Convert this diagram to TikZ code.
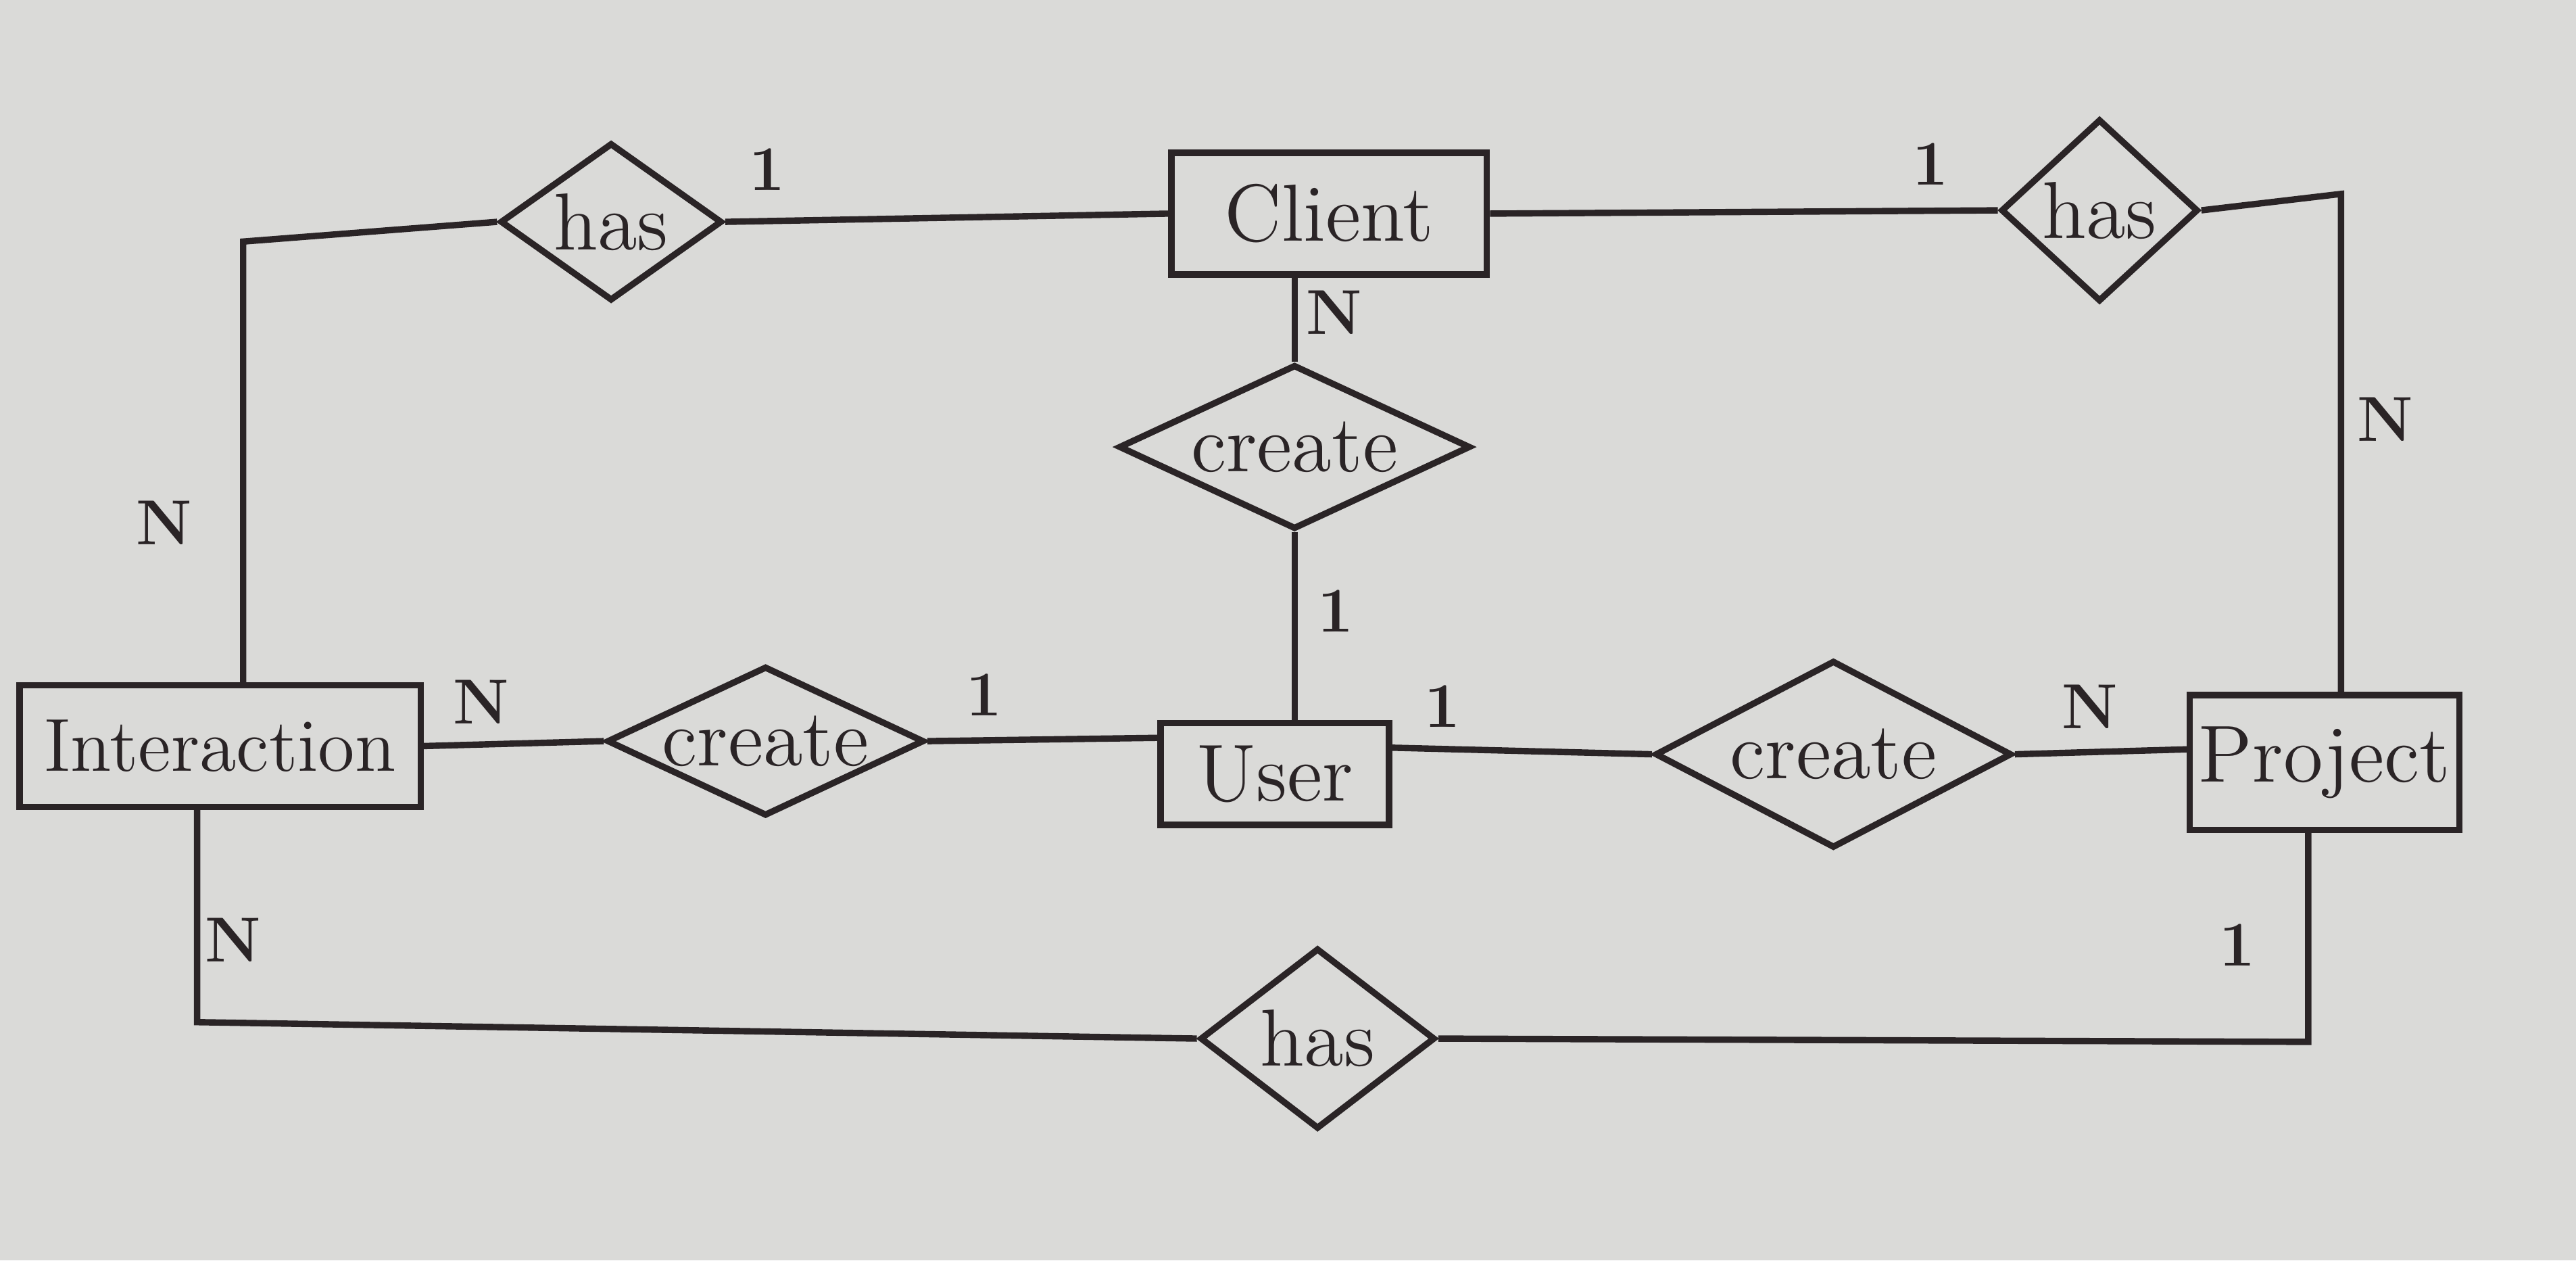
\documentclass[tikz,border=0pt]{standalone}
\usetikzlibrary{shapes.geometric}
\definecolor{paper}{RGB}{218,218,216}
\definecolor{ink}{RGB}{42,36,38}
\begin{document}
\begin{tikzpicture}[x=0.01cm,y=-0.01cm,
  line width=1.1pt, draw=ink, every node/.style={text=ink},
  entity/.style={draw=ink, line width=1.1pt, rectangle, inner sep=0pt, font=\fontsize{14}{16}\selectfont},
  rel/.style={draw=ink, line width=1.1pt, diamond, inner sep=0pt, shape aspect=1},
  reltext/.style={font=\fontsize{14}{16}\selectfont},
  card/.style={font=\fontsize{11}{13}\selectfont\bfseries}]
\fill[paper] (0,0) rectangle (1568,767);
\useasboundingbox (0,0) rectangle (1568,767);
% entities
\node[entity, minimum width=1.92cm, minimum height=0.74cm] (cl) at (809,130) {Client};
\node[entity, minimum width=1.39cm, minimum height=0.62cm] (us) at (776,471) {User};
\node[entity, minimum width=2.44cm, minimum height=0.74cm, font=\fontsize{13}{15}\selectfont] (in) at (134,454) {Interaction};
\node[entity, minimum width=1.64cm, minimum height=0.82cm] (pr) at (1415,464) {Project};
% relationships
\node[rel, minimum width=1.35cm, minimum height=0.96cm] (h1) at (372,135) {};
\node[reltext] (h1t) at (h1) {has};
\node[rel, minimum width=1.20cm, minimum height=1.11cm] (h2) at (1278,128) {};
\node[reltext] (h2t) at (h2) {has};
\node[rel, minimum width=2.14cm, minimum height=1.00cm] (c1) at (788,272) {};
\node[reltext] (c1t) at (c1) {create};
\node[rel, minimum width=1.93cm, minimum height=0.91cm] (c2) at (466,451) {};
\node[reltext] (c2t) at (c2) {create};
\node[rel, minimum width=2.17cm, minimum height=1.14cm] (c3) at (1116,459) {};
\node[reltext] (c3t) at (c3) {create};
\node[rel, minimum width=1.43cm, minimum height=1.10cm] (h3) at (802,632) {};
\node[reltext] (h3t) at (h3) {has};
% bend points
\coordinate (b1) at (148,147);
\coordinate (b2) at (1425,118);
\coordinate (b3) at (120,622);
\coordinate (b4) at (1405,634);
% connectors
\draw (h1.east) -- (cl.west);
\draw (h1.west) -- (b1) -- (b1 |- in.north);
\draw (cl.east) -- (h2.west);
\draw (h2.east) -- (b2) -- (b2 |- pr.north);
\draw (c1.north) -- (c1.north |- cl.south);
\draw (c1.south) -- (c1.south |- us.north);
\draw (in.east) -- (c2.west);
\draw (c2.east) -- ([yshift=0.22cm]us.west);
\draw ([yshift=0.16cm]us.east) -- (c3.west);
\draw (c3.east) -- ([yshift=0.08cm]pr.west);
\draw (b3 |- in.south) -- (b3) -- (h3.west);
\draw (h3.east) -- (b4) -- (b4 |- pr.south);
% cardinalities
\node[card] (k1) at (467,103) {1};
\node[card] (k2) at (1175,100) {1};
\node[card] (k3) at (1452,255) {N};
\node[card] (k4) at (812,190) {N};
\node[card] (k5) at (813,372) {1};
\node[card] (k6) at (100,318) {N};
\node[card] (k7) at (293,427) {N};
\node[card] (k8) at (599,423) {1};
\node[card] (k9) at (878,430) {1};
\node[card] (k10) at (1272,430) {N};
\node[card] (k11) at (142,572) {N};
\node[card] (k12) at (1362,575) {1};
\end{tikzpicture}
\end{document}
